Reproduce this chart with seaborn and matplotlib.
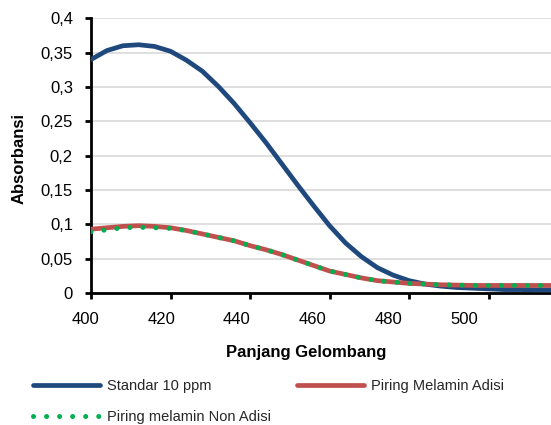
import numpy as np
import pandas as pd
import matplotlib
matplotlib.use("Agg")
import matplotlib.pyplot as plt
from matplotlib.ticker import FuncFormatter, MultipleLocator, FixedLocator
from matplotlib.transforms import ScaledTranslation
from matplotlib.lines import Line2D
import seaborn as sns

# ---- data ----
wavelength = [400, 404, 408, 412, 416, 420, 424, 428, 432, 436, 440, 444, 448, 452,
              456, 460, 464, 468, 472, 476, 480, 484, 488, 492, 496, 500, 504, 508,
              512, 516]
standar = [0.340, 0.353, 0.360, 0.3615, 0.359, 0.352, 0.339, 0.323, 0.301, 0.276,
           0.248, 0.219, 0.188, 0.157, 0.127, 0.098, 0.073, 0.053, 0.037, 0.026,
           0.018, 0.013, 0.010, 0.008, 0.007, 0.006, 0.005, 0.005, 0.0045, 0.0045]
adisi = [0.093, 0.095, 0.097, 0.098, 0.097, 0.095, 0.091, 0.086, 0.081, 0.076,
         0.069, 0.063, 0.056, 0.048, 0.040, 0.032, 0.027, 0.022, 0.018, 0.016,
         0.014, 0.013, 0.012, 0.0115, 0.011, 0.011, 0.011, 0.011, 0.011, 0.011]
non_adisi = [0.089, 0.092, 0.095, 0.0957, 0.095, 0.094, 0.091, 0.086, 0.081, 0.076,
             0.069, 0.063, 0.056, 0.048, 0.040, 0.032, 0.027, 0.022, 0.018, 0.016,
             0.014, 0.013, 0.012, 0.0115, 0.011, 0.011, 0.011, 0.011, 0.011, 0.011]

series_names = ["Standar 10 ppm", "Piring Melamin Adisi", "Piring melamin Non Adisi"]
colors = ["#1F497D", "#C0504D", "#00B050"]
x_ticks = [400, 420, 440, 460, 480, 500]
x_tick_labels = ["400", "420", "440", "460", "480", "500"]

df = pd.DataFrame({
    "wl": wavelength * 3,
    "val": standar + adisi + non_adisi,
    "series": [series_names[0]] * len(wavelength) + [series_names[1]] * len(wavelength)
              + [series_names[2]] * len(wavelength),
})

sns.set_style("white")
plt.rcParams["font.family"] = ["Liberation Sans", "DejaVu Sans"]

fig = plt.figure(figsize=(5.51, 4.25), dpi=100)
ax = fig.add_axes([91 / 551, 1 - 293 / 425, 1 - 91 / 551, (293 - 18.3) / 425])

lw = 3.4
dot_style = (0, (0.01, 2.6))
sns.lineplot(data=df[df.series == series_names[0]], x="wl", y="val", ax=ax,
             color=colors[0], linewidth=lw, legend=False, zorder=3,
             solid_joinstyle="round")
sns.lineplot(data=df[df.series == series_names[1]], x="wl", y="val", ax=ax,
             color=colors[1], linewidth=lw, legend=False, zorder=4,
             solid_joinstyle="round")
sns.lineplot(data=df[df.series == series_names[2]], x="wl", y="val", ax=ax,
             color=colors[2], linewidth=3.6, legend=False, zorder=5,
             linestyle=dot_style, dash_capstyle="round")

ax.yaxis.set_major_locator(MultipleLocator(0.05))
ax.yaxis.set_major_formatter(FuncFormatter(lambda v, p: ("%g" % round(v, 3)).replace(".", ",")))
ax.set_xticks(x_ticks, x_tick_labels)

ax.set_xlim(400, 515.7)
ax.set_ylim(0, 0.4)

ax.grid(axis="y", which="major", color="#D9D9D9", linewidth=1.2)
ax.grid(axis="x", which="both", visible=False)
ax.set_axisbelow(True)
for s in ["top", "right"]:
    ax.spines[s].set_visible(False)
for s in ["left", "bottom"]:
    ax.spines[s].set_color("black")
    ax.spines[s].set_linewidth(2)
ax.tick_params(axis="both", which="major", direction="out", length=4, width=2,
               color="black", labelsize=12, labelcolor="black")
ax.tick_params(axis="y", pad=9, left=True)
ax.tick_params(axis="x", pad=10, bottom=True)

# the reference's x labels sit progressively left of their ticks
px_per_unit = 460 / (515.7 - 400)
for v, tick in zip(x_ticks, ax.xaxis.get_major_ticks()):
    dx_px = ((v - 400) * -0.048 - 1.4) * px_per_unit
    lab = tick.label1
    lab.set_transform(lab.get_transform() + ScaledTranslation(dx_px / 100, 0, fig.dpi_scale_trans))

ax.set_xlabel("Panjang Gelombang", fontsize=12, fontweight="bold", color="black")
ax.set_ylabel("Absorbansi", fontsize=12, fontweight="bold", color="black")
ax.xaxis.set_label_coords(0.467, -0.19)
ax.yaxis.set_label_coords(-0.14, 0.49)

handles = [
    Line2D([], [], color=colors[0], linewidth=lw),
    Line2D([], [], color=colors[2], linewidth=3.6, linestyle=dot_style,
           dash_capstyle="round"),
    Line2D([], [], color=colors[1], linewidth=lw),
]
labels = [series_names[0], series_names[2], series_names[1]]
fig.legend(handles, labels, ncol=2, loc="upper left", bbox_to_anchor=(0.06, 0.109),
           frameon=False, prop={"size": 10.5},
           handlelength=4.6, handletextpad=0.48,
           columnspacing=1.8, labelspacing=1.18, borderpad=0, borderaxespad=0)

fig.savefig("out.png", dpi=100)
